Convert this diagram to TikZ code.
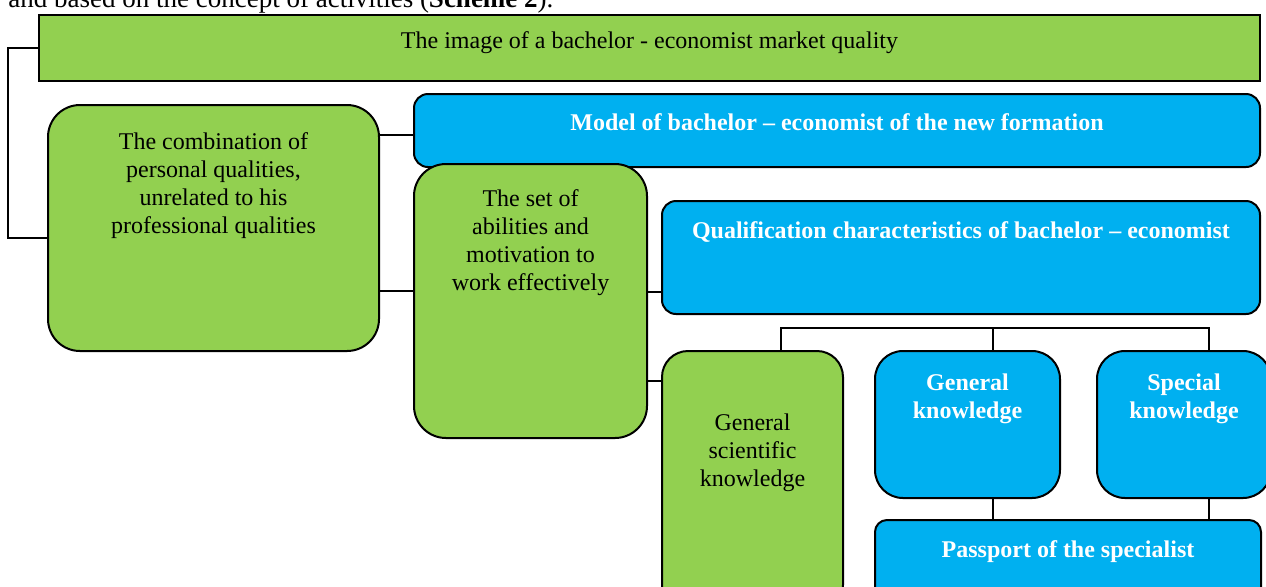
\documentclass[tikz,border=0pt]{standalone}
\usepackage{fontspec}
\setmainfont{Liberation Serif}
\usetikzlibrary{positioning}
\definecolor{leafgreen}{HTML}{92D050}
\definecolor{skyblue}{HTML}{00B0F0}
\tikzstyle{greenbox} = [rectangle, rounded corners=16pt, draw=black, line width=1pt, fill=leafgreen, anchor=north west]
\tikzstyle{bluebox} = [rectangle, rounded corners=7pt, draw=black, line width=1pt, fill=skyblue, anchor=north west]
\tikzstyle{darktext} = [inner sep=0pt, align=center, font=\fontsize{12}{14}\selectfont]
\tikzstyle{whitetext} = [darktext, text=white, font=\fontsize{12}{14}\selectfont\bfseries]
\tikzstyle{link} = [line width=0.8pt, -]

\begin{document}
\begin{tikzpicture}[x=0.5pt, y=-0.5pt]
  \useasboundingbox (0,0) rectangle (1266,586);
  \clip (0,0) rectangle (1266,586);
  \node (intro) [anchor=base west, inner sep=0pt, font=\fontsize{13.5}{16}\selectfont] at (8,7) {and based on the concept of activities (\textbf{Scheme 2}).};
  % boxes
  \node (image) [greenbox, sharp corners, minimum width=610.5pt, minimum height=33pt] at (38,14) {};
  \node (comb) [greenbox, minimum width=165.5pt, minimum height=123pt] at (47,104) {};
  \node (model) [bluebox, minimum width=423pt, minimum height=36.5pt] at (413,93) {};
  \node (set) [greenbox, minimum width=116.5pt, minimum height=137pt] at (413,163) {};
  \node (qual) [bluebox, minimum width=299pt, minimum height=56.5pt] at (661,200) {};
  \node (gsk) [greenbox, rounded corners=13pt, minimum width=90.5pt, minimum height=130pt] at (661,350) {};
  \node (gk) [bluebox, rounded corners=14pt, minimum width=92.5pt, minimum height=73.5pt] at (874,350) {};
  \node (sk) [bluebox, rounded corners=14pt, minimum width=87pt, minimum height=73.5pt] at (1096,350) {};
  \node (pass) [bluebox, rounded corners=6pt, minimum width=193pt, minimum height=40pt] at (874,519) {};
  % texts
  \node (imagetext) [darktext, below=8.5pt of image.north] {The image of a bachelor - economist market quality};
  \node (combtext) [darktext, below=14pt of comb.north] {The combination of\\personal qualities,\\unrelated to his\\professional qualities};
  \node (modeltext) [whitetext, below=10pt of model.north] {Model of bachelor -- economist of the new formation};
  \node (settext) [darktext, below=13pt of set.north] {The set of\\abilities and\\motivation to\\work effectively};
  \node (qualtext) [whitetext, below=10.5pt of qual.north] {Qualification characteristics of bachelor -- economist};
  \node (gsktext) [darktext, below=31.5pt of gsk.north] {General\\scientific\\knowledge};
  \node (gktext) [whitetext, below=11.5pt of gk.north] {General\\knowledge};
  \node (sktext) [whitetext, below=11.5pt of sk.north] {Special\\knowledge};
  \node (passtext) [whitetext, below=10.5pt of pass.north] {Passport of the specialist};
  % connectors
  \draw [link] (image.west) -- ++(-15pt,0) |- ([yshift=-5pt]comb.west);
  \draw [link] ([yshift=-2.25pt]model.west -| comb.east) -- ([yshift=-2.25pt]model.west);
  \draw [link] ([yshift=5pt]set.west -| comb.east) -- ([yshift=5pt]set.west);
  \draw [link] ([yshift=4.5pt]set.east) -- ([yshift=4.5pt]set.east -| qual.west);
  \draw [link] ([yshift=-40pt]set.east) -- ([yshift=-40pt]set.east -| gsk.west);
  \draw [link] ([xshift=14.25pt]gsk.north) -- ++(0,11pt) -| ([xshift=12.5pt]sk.north);
  \draw [link] ([xshift=12.75pt]gk.north) -- ++(0,11pt);
  \draw [link] ([xshift=12.75pt]gk.south) -- ([xshift=12.75pt]gk.south |- pass.north);
  \draw [link] ([xshift=12.5pt]sk.south) -- ([xshift=12.5pt]sk.south |- pass.north);
\end{tikzpicture}
\end{document}
